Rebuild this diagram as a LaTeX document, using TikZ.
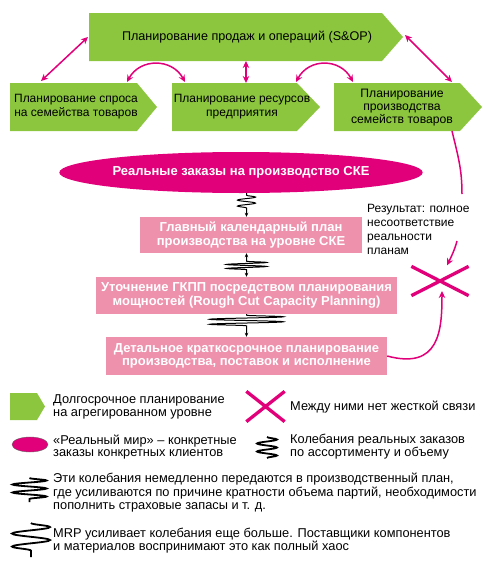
\documentclass[tikz,border=0pt]{standalone}
\usepackage{fontspec}
\setmainfont{Liberation Sans}
\usetikzlibrary{arrows.meta,shapes.geometric,shapes.misc,decorations.pathmorphing,calc}
\definecolor{gr}{RGB}{140,198,63}
\definecolor{mag}{RGB}{226,0,122}
\definecolor{pk}{RGB}{238,145,172}
\begin{document}
\begin{tikzpicture}[x=1pt,y=-1pt,
  pent/.style={shape=rectangle,inner sep=0pt,outer sep=0pt},
  txt/.style={font=\fontsize{12}{14}\selectfont,align=center,inner sep=0pt},
  ltxt/.style={font=\fontsize{12.8}{12.8}\selectfont,align=left,anchor=west,inner sep=0pt},
  btxt/.style={font=\fontsize{13}{13.5}\selectfont\bfseries,align=center,text=white},
  pbox/.style={shape=rectangle,fill=pk,inner sep=0pt,btxt},
  ell/.style={ellipse,fill=mag,inner sep=0pt},
  xmark/.style={cross out,draw=mag,line width=3.3pt,inner sep=0pt},
  pkarr/.style={draw=mag,line width=1.5pt,{Stealth[length=7pt,width=6.5pt]}-{Stealth[length=7pt,width=6.5pt]}},
  pkl/.style={draw=mag,line width=1.5pt},
  pkone/.style={draw=mag,line width=1.5pt,-{Stealth[length=7pt,width=6.5pt]}},
  spr/.style={draw=black,line width=1pt,decorate},
  sarr/.style={-{Stealth[length=4pt,width=3.5pt]}},
]
\useasboundingbox (0,0) rectangle (486,565);

% ---- green pentagons (top) ----
\node[pent,minimum width=314pt,minimum height=48pt] (sop) at (246,37) {};
\node[pent,minimum width=147pt,minimum height=48pt] (dem) at (83.5,107) {};
\node[pent,minimum width=148pt,minimum height=48pt] (res) at (246,107) {};
\node[pent,minimum width=148pt,minimum height=48pt] (prod) at (408,107) {};
\fill[gr] (sop.north west) -- ([xshift=-21pt]sop.north east) -- (sop.east) -- ([xshift=-21pt]sop.south east) -- (sop.south west) -- cycle;
\fill[gr] (dem.north west) -- ([xshift=-20pt]dem.north east) -- (dem.east) -- ([xshift=-20pt]dem.south east) -- (dem.south west) -- cycle;
\fill[gr] (res.north west) -- ([xshift=-23pt]res.north east) -- (res.east) -- ([xshift=-23pt]res.south east) -- (res.south west) -- cycle;
\fill[gr] (prod.north west) -- ([xshift=-22pt]prod.north east) -- (prod.east) -- ([xshift=-22pt]prod.south east) -- (prod.south west) -- cycle;
\node[txt,font=\fontsize{12.6}{14}\selectfont] (sopT) at (247,37) {Планирование продаж и операций (S\&OP)};
\node[txt] (demT) at (76,107) {Планирование спроса\\на семейства товаров};
\node[txt] (resT) at (242,107) {Планирование ресурсов\\предприятия};
\node[txt,font=\fontsize{12.2}{13}\selectfont] (prodT) at (402,108) {Планирование\\производства\\семейств товаров};

% ---- pink connectors top ----
\draw[pkarr] ([xshift=31pt,yshift=2pt]dem.north west) -- ([xshift=-1pt]sop.west);
\draw[pkarr] ([xshift=-30pt,yshift=1pt]dem.north east) .. controls +(13,-24) and +(-13,-24) .. ([xshift=13pt,yshift=1pt]res.north west);
\draw[pkarr] (sop.south) -- (res.north);
\draw[pkarr] ([xshift=-24pt,yshift=1pt]res.north east) .. controls +(13,-24) and +(-13,-24) .. ([xshift=19pt,yshift=1pt]prod.north west);
\draw[pkarr] ([xshift=2pt,yshift=2pt]sop.east) -- ([xshift=118pt,yshift=1pt]prod.north west);

% ---- middle column ----
\node[ell,minimum width=288pt,minimum height=41pt,btxt] (orders) at (241,172.5) {Реальные заказы на производство СКЕ};
\node[pbox,minimum width=222pt,minimum height=36pt] (mps) at (251,235) {Главный календарный план\\производства на уровне СКЕ};
\node[pbox,minimum width=301pt,minimum height=37pt] (rccp) at (246.5,295.5) {Уточнение ГКПП посредством планирования\\мощностей (Rough Cut Capacity Planning)};
\node[pbox,minimum width=281pt,minimum height=38pt] (det) at (246.5,356) {Детальное краткосрочное планирование\\производства, поставок и исполнение};

\draw[spr,sarr,decoration={snake,amplitude=9pt,segment length=6pt,pre length=2pt,post length=7pt}]
  (orders.south -| rccp.center) -- (mps.north -| rccp.center);
\draw[spr,{Stealth[length=4pt,width=3.5pt]}-{Stealth[length=4pt,width=3.5pt]},decoration={snake,amplitude=20pt,segment length=4pt,pre length=8pt,post length=7pt}]
  (mps.south -| rccp.center) -- (rccp.north);
\draw[spr,sarr,decoration={snake,amplitude=37pt,segment length=5pt,pre length=1pt,post length=10pt}]
  (rccp.south) -- (det.north -| rccp.center);

% ---- right side ----
\node[xmark,minimum width=54pt,minimum height=26pt] (xm) at (440,281) {};
\node[ltxt,font=\fontsize{12}{14}\selectfont] (res2) at (367,229) {Результат: полное\\несоответствие\\реальности\\планам};
\coordinate (cA) at (462,194);
\coordinate (cB) at (457,241);
\draw[pkl] ([xshift=118pt]prod.south west) .. controls +(6,25) and +(0,-25) .. (cA);
\draw[pkone] (cB) .. controls +(-2,8) and +(4,-8) .. ([xshift=7pt,yshift=1pt]xm.north);
\draw[pkone] (det.east) .. controls +(52,14) and +(0,40) .. ([xshift=2pt,yshift=-10pt]xm.center);

% ---- legend ----
\node[pent,minimum width=35pt,minimum height=27pt] (legG) at (27.5,406.5) {};
\fill[gr] (legG.north west) -- ([xshift=-8pt]legG.north east) -- (legG.east) -- ([xshift=-8pt]legG.south east) -- (legG.south west) -- cycle;
\node[ltxt] (legGT) at (53,407) {Долгосрочное планирование\\на агрегированном уровне};
\node[xmark,minimum width=35pt,minimum height=27pt] (legX) at (265.5,406.5) {};
\node[ltxt] (legXT) at (290,407) {Между ними нет жесткой связи};
\node[ell,draw=black!60,line width=0.4pt,minimum width=36pt,minimum height=15pt] (legE) at (30,444.5) {};
\node[ltxt] (legET) at (53,447) {«Реальный мир» – конкретные\\заказы конкретных клиентов};
\coordinate (s1a) at (267,437); \coordinate (s1b) at (267,458);
\draw[spr,line width=1.8pt,decoration={snake,amplitude=10pt,segment length=8pt}] (s1a) -- (s1b);
\node[ltxt] (legS1T) at (290,447) {Колебания реальных заказов\\по ассортименту и объему};
\coordinate (s2a) at (29.5,478); \coordinate (s2b) at (29.5,502);
\draw[spr,line width=1.8pt,decoration={snake,amplitude=17pt,segment length=8pt}] (s2a) -- (s2b);
\node[ltxt,font=\fontsize{12.8}{13.5}\selectfont] (legS2T) at (53,493) {Эти колебания немедленно передаются в производственный план,\\где усиливаются по причине кратности объема партий, необходимости\\пополнить страховые запасы и т. д.};
\coordinate (s3a) at (31,523); \coordinate (s3b) at (31,557);
\draw[spr,line width=1.8pt,decoration={snake,amplitude=19pt,segment length=13pt}] (s3a) -- (s3b);
\node[ltxt] (legS3T) at (53,541) {MRP усиливает колебания еще больше. Поставщики компонентов\\и материалов воспринимают это как полный хаос};
\end{tikzpicture}
\end{document}
